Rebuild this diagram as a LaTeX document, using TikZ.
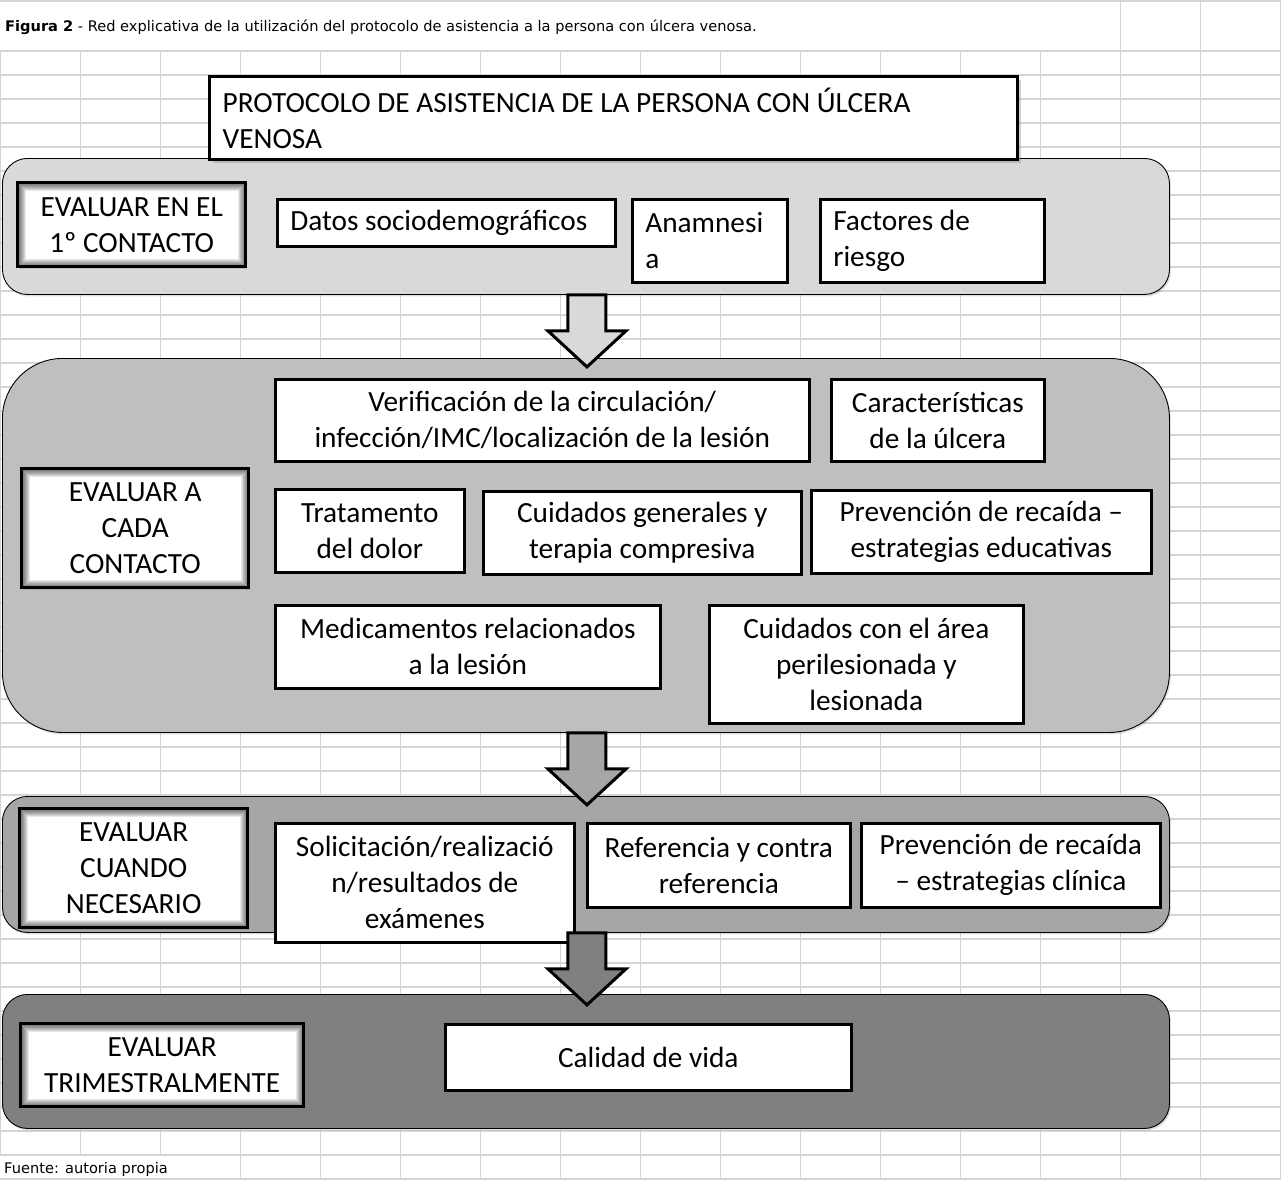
\documentclass[tikz,border=0pt]{standalone}
\usepackage{fontspec}
\setmainfont{Carlito}
\newfontfamily\capfont{DejaVu Sans}
\usetikzlibrary{shadows,calc}

\definecolor{gridgray}{HTML}{D4D4D4}
\definecolor{bandA}{HTML}{D9D9D9}
\definecolor{bandB}{HTML}{BFBFBF}
\definecolor{bandC}{HTML}{A6A6A6}
\definecolor{bandD}{HTML}{808080}

\tikzset{
  gridline/.style={gridgray, line width=1.2pt},
  band/.style={draw=black, line width=0.9pt, rounded corners=25pt, anchor=north west,
    drop shadow={shadow xshift=1.5pt, shadow yshift=-2pt, opacity=0.25}},
  boxfont/.style={font=\fontsize{29.3}{36}\selectfont},
  capfont/.style={font=\capfont\fontsize{14.6}{17}\selectfont},
  cbox/.style={draw, line width=2.6pt, fill=white, anchor=north west, inner sep=0pt,
    align=center, boxfont},
  leftbox/.style={cbox, align=flush left, inner xsep=13pt},
  lbox/.style={cbox, line width=3.4pt,
    drop shadow={shadow xshift=1.5pt, shadow yshift=-2pt, opacity=0.3},
    path picture={
      \foreach \w in {2,4,...,16}{
        \draw[line width=\w pt, black, opacity=0.09]
          (path picture bounding box.south west) rectangle (path picture bounding box.north east);
      }}},
  blockarrow/.style={draw, line width=3pt, line join=miter},
}

\begin{document}
\begin{tikzpicture}[x=1pt, y=-1pt]
  \fill[white] (0,0) rectangle (1281,1180);
  \useasboundingbox (0,0) rectangle (1281,1180);

  % spreadsheet grid
  \draw[gridline] (0,1) -- (1281,1);
  \foreach \j in {0,...,47}
    \draw[gridline] (0,51+24*\j) -- (1281,51+24*\j);
  \foreach \i in {0,...,16}
    \draw[gridline] (0.8+80*\i,51) -- (0.8+80*\i,1155);
  \foreach \i in {14,15,16}
    \draw[gridline] (0.8+80*\i,0) -- (0.8+80*\i,51);
  \foreach \i in {3,...,16}
    \draw[gridline] (0.8+80*\i,1155) -- (0.8+80*\i,1180);

  % caption and source
  \node[anchor=base west, inner sep=0pt, capfont] (caption) at (5,32)
    {\textbf{Figura 2} - Red explicativa de la utilización del protocolo de asistencia a la persona con úlcera venosa.};
  \node[anchor=base west, inner sep=0pt, capfont] (fuente) at (4,1173)
    {Fuente: autoria propia};

  % bands
  \node[band, fill=bandA, minimum width=1167pt, minimum height=136pt] (band1) at (2,158) {};
  \node[band, fill=bandB, rounded corners=60pt, minimum width=1167pt, minimum height=374pt] (band2) at (2,358) {};
  \node[band, fill=bandC, minimum width=1167pt, minimum height=136pt] (band3) at (2,796) {};
  \node[band, fill=bandD, minimum width=1167pt, minimum height=134pt] (band4) at (2,994) {};

  % title
  \node[leftbox, line width=3.4pt, text width=782pt, minimum height=83pt,
    drop shadow={shadow xshift=3pt, shadow yshift=-3pt, opacity=0.35}] (title) at (208,75)
    {PROTOCOLO DE ASISTENCIA DE LA PERSONA CON ÚLCERA\\VENOSA};

  % first contact
  \node[lbox, minimum width=228pt, minimum height=84pt] (first) at (16,181) {EVALUAR EN EL\\1º CONTACTO};
  \node[leftbox, text width=312pt, minimum height=47pt] (datos) at (276,198) {Datos sociodemográficos};
  \node[leftbox, text width=129pt, minimum height=83pt] (anam) at (631,198) {Anamnesi\\a};
  \node[leftbox, text width=198pt, minimum height=83pt] (riesgo) at (819,198) {Factores de\\riesgo};

  % every contact
  \node[lbox, minimum width=227pt, minimum height=119pt] (every) at (20,467) {EVALUAR A\\CADA\\CONTACTO};
  \node[cbox, minimum width=534pt, minimum height=82pt] (verif) at (274,378)
    {Verificación de la circulación/\\infección/IMC/localización de la lesión};
  \node[cbox, minimum width=213pt, minimum height=82pt] (caract) at (830,378) {Características\\de la úlcera};
  \node[cbox, minimum width=189pt, minimum height=83pt] (dolor) at (274,488) {Tratamento\\del dolor};
  \node[cbox, minimum width=318pt, minimum height=83pt] (cuidados) at (482,490) {Cuidados generales y\\terapia compresiva};
  \node[cbox, minimum width=340pt, minimum height=83pt] (educ) at (810,489) {Prevención de recaída –\\estrategias educativas};
  \node[cbox, minimum width=385pt, minimum height=83pt] (medic) at (274,604) {Medicamentos relacionados\\a la lesión};
  \node[cbox, minimum width=314pt, minimum height=118pt] (area) at (708,604) {Cuidados con el área\\perilesionada y\\lesionada};

  % when needed
  \node[lbox, minimum width=228pt, minimum height=119pt] (needed) at (18,807) {EVALUAR\\CUANDO\\NECESARIO};
  \node[cbox, minimum width=299pt, minimum height=119pt] (examen) at (274,822) {Solicitación/realizació\\n/resultados de\\exámenes};
  \node[cbox, minimum width=263pt, minimum height=84pt] (refer) at (586,822) {Referencia y contra\\referencia};
  \node[cbox, minimum width=299pt, minimum height=84pt] (clinic) at (860,822) {Prevención de recaída\\– estrategias clínica};

  % quarterly
  \node[lbox, minimum width=283pt, minimum height=83pt] (quarter) at (19,1022) {EVALUAR\\TRIMESTRALMENTE};
  \node[cbox, minimum width=406pt, minimum height=66pt] (vida) at (444,1023) {Calidad de vida};

  % block arrows between bands
  \foreach \b/\col in {band1/bandA, band2/bandC, band3/bandD}
    \draw[blockarrow, fill=\col] ([xshift=-18pt]\b.south) -- ++(38,0) -- ++(0,36) -- ++(20,0)
      -- ++(-39,36) -- ++(-39,-36) -- ++(20,0) -- cycle;
\end{tikzpicture}
\end{document}
